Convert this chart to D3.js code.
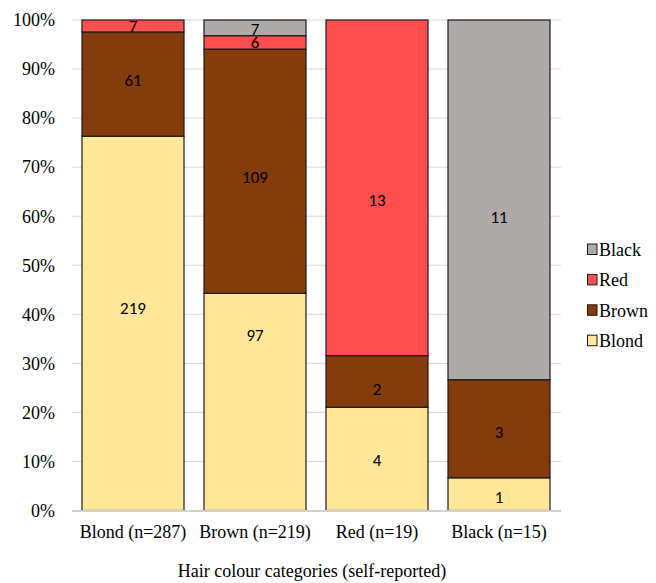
<!DOCTYPE html>
<html>
<head>
<meta charset="utf-8">
<script src="https://cdn.jsdelivr.net/npm/d3@7"></script>
<style>
  html, body { margin: 0; padding: 0; background: #fff; }
  svg { display: block; }
  .serif { font-family: "Liberation Serif", "Times New Roman", "DejaVu Serif", serif; }
  .sans  { font-family: Carlito, Calibri, "Open Sans", sans-serif; }
</style>
</head>
<body>
<svg id="chart" width="656" height="583"></svg>
<script>
// Self-reported hair colour groups and counts of measured hair colour in each
const categories = ["Blond (n=287)", "Brown (n=219)", "Red (n=19)", "Black (n=15)"];
const blond = [219, 97, 4, 1];
const brown = [61, 109, 2, 3];
const red   = [7, 6, 13, 0];
const black = [0, 7, 0, 11];
const yTicks = [0, 0.1, 0.2, 0.3, 0.4, 0.5, 0.6, 0.7, 0.8, 0.9, 1.0];

const seriesNames  = ["Blond", "Brown", "Red", "Black"];
const seriesColors = ["#FFE699", "#843C0C", "#FF5050", "#AEAAAA"];
const seriesValues = [blond, brown, red, black];

// vertical nudges (px) for the value labels, per series and category
const labelNudge = [
  [-15.6, -67, 1, 3],
  [-4, 5.5, 7.6, 3.6],
  [0, 0, 12, 0],
  [0, 1, 0, 17]
];

const rows = categories.map((c, i) => {
  const r = { cat: c, idx: i };
  seriesNames.forEach((s, k) => r[s] = seriesValues[k][i]);
  r.total = seriesNames.reduce((a, s) => a + r[s], 0);
  return r;
});

const svg = d3.select("#chart");
const plotLeft = 72, plotRight = 560, plotTop = 20, plotBottom = 510.5;

const x = d3.scaleBand().domain(categories).range([plotLeft, plotRight])
  .paddingInner(20 / 122).paddingOuter(10 / 122);
const y = d3.scaleLinear().domain([0, 1]).range([plotBottom, plotTop]);

// gridlines
svg.append("g").selectAll("line").data(yTicks.filter(t => t > 0)).join("line")
  .attr("x1", plotLeft).attr("x2", plotRight + 1)
  .attr("y1", d => y(d)).attr("y2", d => y(d))
  .attr("stroke", "#d9d9d9").attr("stroke-width", 1);

// y tick labels
svg.append("g").selectAll("text").data(yTicks).join("text")
  .attr("class", "serif")
  .attr("x", 55).attr("y", d => y(d))
  .attr("dy", "0.35em")
  .attr("text-anchor", "end")
  .attr("font-size", 18).attr("fill", "#000")
  .text(d3.format(".0%"));

// stacked shares
const stack = d3.stack().keys(seriesNames)
  .value((d, key) => d[key] / d.total);
const layers = stack(rows);

const g = svg.append("g");
layers.forEach((layer, k) => {
  const segs = layer.map((p, i) => ({ p, row: rows[i], key: layer.key }))
    .filter(d => d.row[d.key] > 0);
  g.selectAll(null).data(segs).join("rect")
    .attr("x", d => x(d.row.cat))
    .attr("width", x.bandwidth())
    .attr("y", d => y(d.p[1]))
    .attr("height", d => y(d.p[0]) - y(d.p[1]))
    .attr("fill", seriesColors[k])
    .attr("stroke", "#1a1a1a").attr("stroke-width", 1.2);
});

// value labels inside segments
layers.forEach((layer, k) => {
  const segs = layer.map((p, i) => ({ p, row: rows[i], key: layer.key }))
    .filter(d => d.row[d.key] > 0);
  g.selectAll(null).data(segs).join("text")
    .attr("class", "sans")
    .attr("x", d => x(d.row.cat) + x.bandwidth() / 2)
    .attr("y", d => (y(d.p[0]) + y(d.p[1])) / 2 + labelNudge[k][d.row.idx])
    .attr("dy", "0.35em")
    .attr("text-anchor", "middle")
    .attr("font-size", 17).attr("fill", "#000")
    .text(d => d.row[d.key]);
});

// baseline
svg.append("line")
  .attr("x1", plotLeft).attr("x2", plotRight + 1)
  .attr("y1", plotBottom + 0.5).attr("y2", plotBottom + 0.5)
  .attr("stroke", "#d0d0d0").attr("stroke-width", 2);

// category labels
svg.append("g").selectAll("text").data(categories).join("text")
  .attr("class", "serif")
  .attr("x", d => x(d) + x.bandwidth() / 2)
  .attr("y", 538)
  .attr("text-anchor", "middle")
  .attr("font-size", 18).attr("fill", "#000")
  .text(d => d);

// axis title
svg.append("text")
  .attr("class", "serif")
  .attr("x", 312).attr("y", 577)
  .attr("text-anchor", "middle")
  .attr("font-size", 18).attr("fill", "#000")
  .text("Hair colour categories (self-reported)");

// legend (Black on top)
const legendOrder = [3, 2, 1, 0];
const lg = svg.append("g");
legendOrder.forEach((k, i) => {
  const yy = 249.5 + i * 30.4;
  lg.append("rect")
    .attr("x", 587.5).attr("y", yy - 5.5)
    .attr("width", 9.5).attr("height", 10.5)
    .attr("fill", seriesColors[k])
    .attr("stroke", "#1a1a1a").attr("stroke-width", 1);
  lg.append("text")
    .attr("class", "serif")
    .attr("x", 599).attr("y", yy)
    .attr("dy", "0.35em")
    .attr("font-size", 18).attr("fill", "#000")
    .text(seriesNames[k]);
});
</script>
</body>
</html>
